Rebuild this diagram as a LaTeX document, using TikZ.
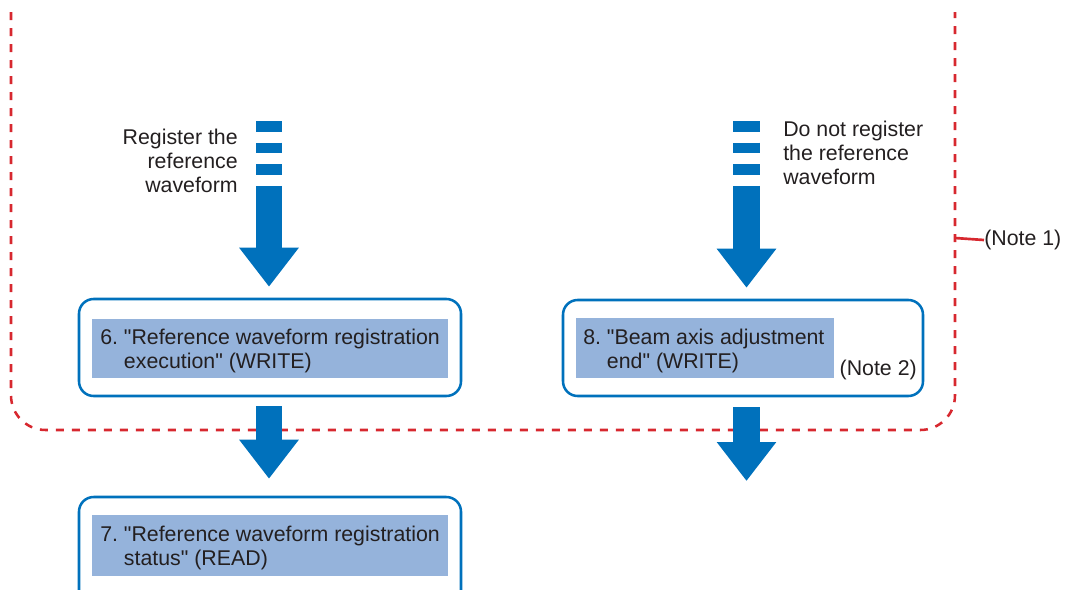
\documentclass[tikz,border=0pt]{standalone}
\usepackage{fontspec}
\setmainfont{Liberation Sans}
\newfontfamily\plainquote{Liberation Sans}
\usetikzlibrary{arrows.meta}
\definecolor{flowblue}{RGB}{0,113,188}
\definecolor{cellblue}{RGB}{149,179,219}
\definecolor{notered}{RGB}{215,40,47}
\definecolor{ink}{RGB}{35,31,32}
\newcommand{\dq}{{\plainquote\symbol{34}}}
\begin{document}
\begin{tikzpicture}[x=0.75pt,y=-0.75pt,
  font=\fontsize{16pt}{18pt}\selectfont, text=ink,
  stepframe/.style={draw=flowblue, line width=1.9pt, rounded corners=11pt,
    inner sep=0pt},
  stepcell/.style={fill=cellblue, inner sep=0pt, anchor=west},
  celltext/.style={anchor=west, align=left, inner sep=0pt},
  bigarrow/.style={draw=flowblue, line width=20pt,
    -{Triangle[width=42.75pt, length=29.25pt]}},
  splitstart/.style={dash pattern=on 7.9pt off 8.3pt on 7.9pt off 8.3pt on 7.9pt off 8.3pt on 400pt off 1pt},
  noteframe/.style={draw=notered, line width=1.9pt, dash pattern=on 6pt off 6pt}]
\clip (0,0) rectangle (1066,589);

% group of steps that is covered by Note 1
\draw[noteframe, rounded corners=26pt]
  (11,12) -- (11,430) -- (955,430) -- (955,12);
\coordinate (frameR) at (955,238);
\node[anchor=west, inner sep=0pt] (note1) at (984,240) {(Note 1)};
\draw[notered, line width=2pt] (frameR) -- (note1.west);

% step boxes
\node[stepframe, minimum width=286.5pt, minimum height=72.75pt] (box6) at (270,347.5) {};
\node[stepcell, minimum width=267pt, minimum height=44.25pt] (cell6) at (92,348.5) {};
\node[celltext] (text6) at ([xshift=6pt,yshift=-2.2pt]cell6.west)
  {6.\ \dq Reference waveform registration\\\hphantom{6.\ }execution\dq{} (WRITE)};

\node[stepframe, minimum width=270pt, minimum height=72pt] (box8) at (743,348) {};
\node[stepcell, minimum width=193.5pt, minimum height=45pt] (cell8) at (576,348) {};
\node[celltext] (text8) at ([xshift=5.25pt,yshift=-2.2pt]cell8.west)
  {8.\ \dq Beam axis adjustment\\\hphantom{8.\ }end\dq{} (WRITE)};
\node[anchor=base east, inner sep=0pt] (note2) at (917,375) {(Note 2)};

\node[stepframe, minimum width=286.5pt, minimum height=90pt] (box7) at (270,557) {};
\node[stepcell, minimum width=267pt, minimum height=45.75pt] (cell7) at (92,545.5) {};
\node[celltext] (text7) at ([xshift=6pt,yshift=-2.2pt]cell7.west)
  {7.\ \dq Reference waveform registration\\\hphantom{7.\ }status\dq{} (READ)};

% branch labels
\node[anchor=east, align=right, inner sep=0pt] (labReg) at (238,161)
  {Register the\\reference\\waveform};
\node[anchor=west, align=left, inner sep=0pt] (labNoReg) at (783,153)
  {Do not register\\the reference\\waveform};

% flow arrows
\coordinate (s6) at (269,121);
\coordinate (s8) at (746.5,121);
\coordinate (e8) at (746.5,481);
\draw[bigarrow, splitstart] (s6) -- ([yshift=8.25pt]s6 |- box6.north);
\draw[bigarrow, splitstart] (s8) -- ([yshift=8.25pt]s8 |- box8.north);
\draw[bigarrow] ([yshift=-6.75pt]s6 |- box6.south) -- ([yshift=12.75pt]s6 |- box7.north);
\draw[bigarrow] ([yshift=-7.5pt]s8 |- box8.south) -- (e8);
\end{tikzpicture}
\end{document}
